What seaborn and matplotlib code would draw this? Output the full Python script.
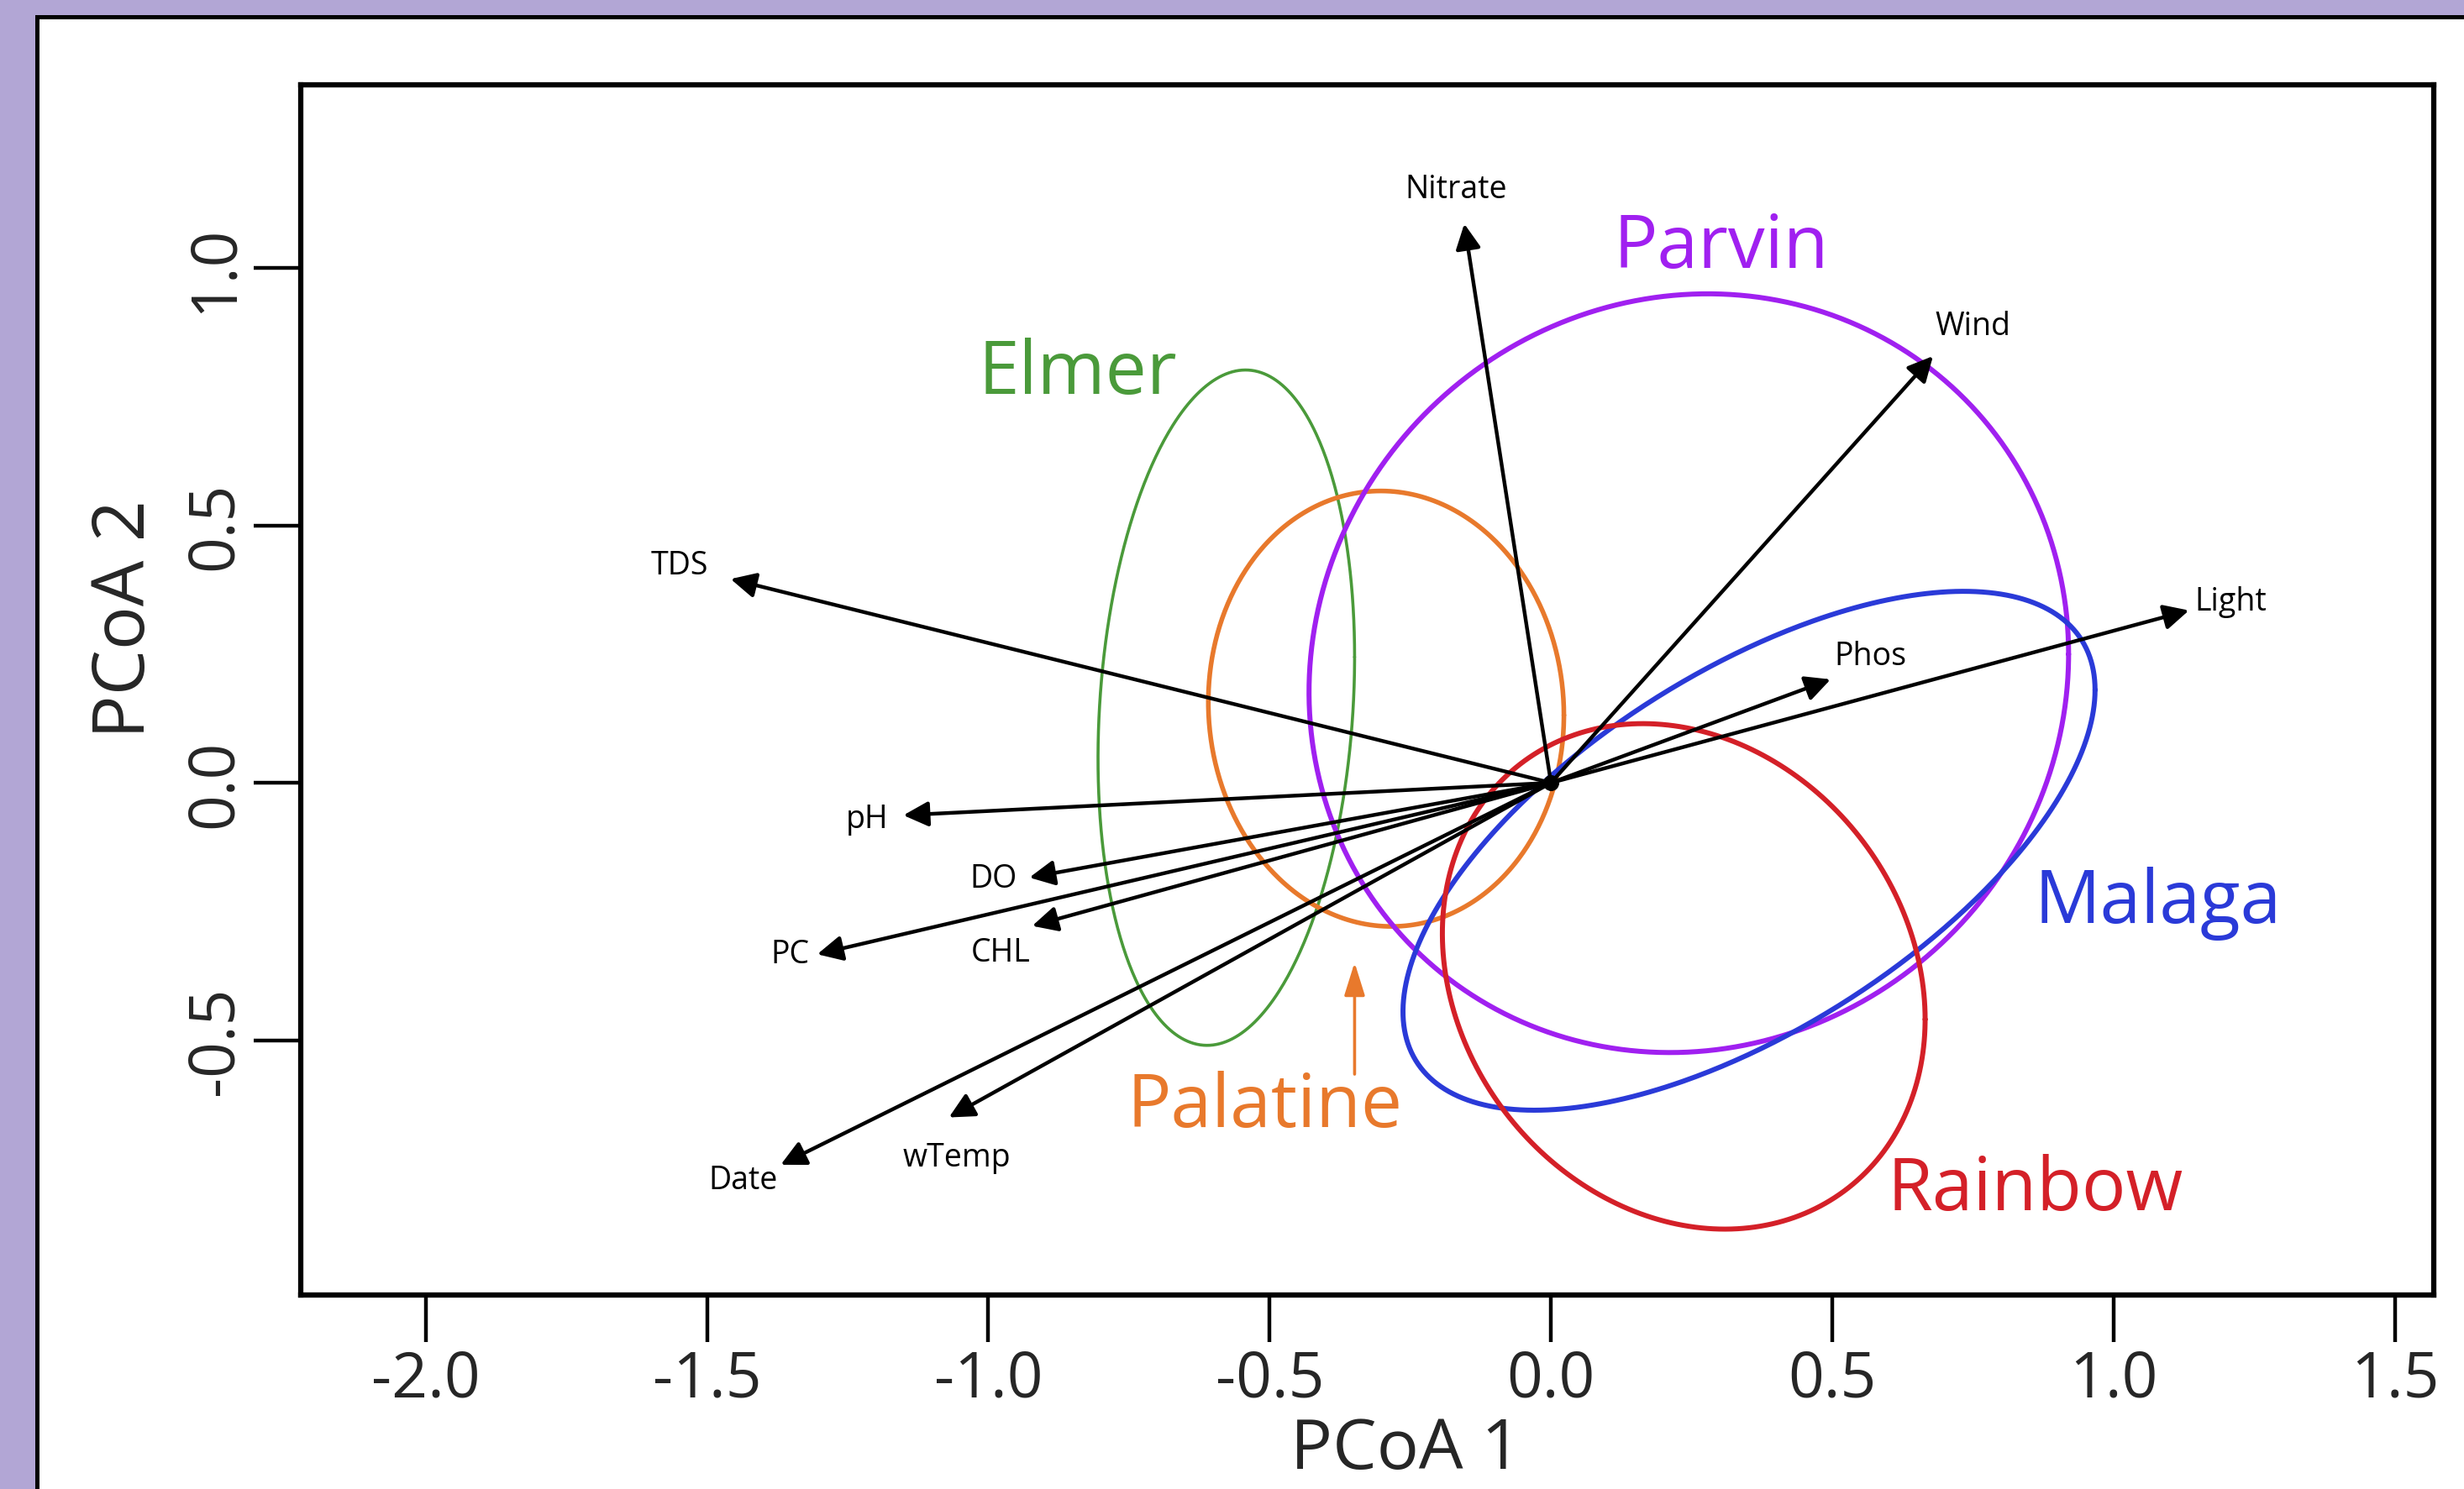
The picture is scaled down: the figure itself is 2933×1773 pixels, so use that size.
import numpy as np
import pandas as pd
import matplotlib
matplotlib.use('Agg')
import matplotlib.pyplot as plt
from matplotlib.patches import Rectangle
import seaborn as sns

# Environmental vectors (arrow tips in PCoA space)
variables = ['Nitrate', 'Wind', 'Light', 'Phos', 'TDS', 'pH', 'DO', 'CHL', 'PC', 'Date', 'wTemp']
vec_x = [-0.154, 0.679, 1.134, 0.497, -1.458, -1.151, -0.927, -0.922, -1.304, -1.369, -1.070]
vec_y = [1.086, 0.829, 0.335, 0.201, 0.396, -0.063, -0.184, -0.278, -0.333, -0.742, -0.650]
origin = (0.0, 0.0)

# Lake ellipses: centre, half extents and correlation
lakes = ['Elmer', 'Palatine', 'Parvin', 'Malaga', 'Rainbow']
ell_cx = [-0.577, -0.293, 0.245, 0.352, 0.236]
ell_cy = [0.146, 0.144, 0.213, -0.132, -0.376]
ell_hx = [0.228, 0.316, 0.675, 0.615, 0.429]
ell_hy = [0.656, 0.423, 0.737, 0.504, 0.491]
ell_rho = [0.15, -0.03, 0.05, 0.62, -0.17]

# Lake label positions (data units)
lake_lab_x = [-0.841, -0.508, 0.302, 1.078, 0.860]
lake_lab_y = [0.795, -0.629, 1.040, -0.233, -0.791]

# Pointer to the Palatine ellipse
palatine_arrow_x = [-0.349, -0.349]
palatine_arrow_y = [-0.566, -0.349]

x_ticks = [-2.0, -1.5, -1.0, -0.5, 0.0, 0.5, 1.0, 1.5]
y_ticks = [-0.5, 0.0, 0.5, 1.0]

colors = {'Elmer': '#4a9a3a', 'Palatine': '#e8792c', 'Parvin': '#a020f0',
          'Malaga': '#2a3ad8', 'Rainbow': '#d42028'}
line_w = {'Elmer': 2.6, 'Palatine': 4.0, 'Parvin': 4.3, 'Malaga': 4.3, 'Rainbow': 4.3}

# label offsets (points) from arrow tips
lab_off = {'Nitrate': (-7, 30), 'Wind': (34, 26), 'Light': (36, 8), 'Phos': (34, 20),
           'TDS': (-44, 12), 'pH': (-31, -3), 'DO': (-31, -1), 'CHL': (-27, -23),
           'PC': (-23, 0), 'Date': (-32, -13), 'wTemp': (7, -34)}

sns.set_style('ticks')
plt.rcParams['font.family'] = ['Open Sans', 'DejaVu Sans']

W, H = 2933, 1774
fig = plt.figure(figsize=(W / 100, H / 100), dpi=100, facecolor='#b2a6d5')
fig.patches.append(Rectangle((44 / W, -0.05), 1.2, 1 - 21 / H + 0.05, transform=fig.transFigure,
                             facecolor='white', edgecolor='black', lw=3.6, zorder=-1))

ax = fig.add_axes([358 / W, 1 - 1543 / H, (2897 - 358) / W, (1543 - 102) / H])
ax.set_facecolor('white')

# ellipses
for i, lake in enumerate(lakes):
    t = np.linspace(0, 2 * np.pi, 500)
    d = np.arcsin(ell_rho[i])
    df = pd.DataFrame({'x': ell_cx[i] + ell_hx[i] * np.cos(t),
                       'y': ell_cy[i] + ell_hy[i] * np.sin(t + d)})
    sns.lineplot(data=df, x='x', y='y', sort=False, estimator=None, ax=ax,
                 color=colors[lake], lw=line_w[lake])
    ax.text(lake_lab_x[i], lake_lab_y[i], lake, color=colors[lake], fontsize=63,
            ha='center', va='center')

# vectors
for v, x, y in zip(variables, vec_x, vec_y):
    ax.annotate('', xy=(x, y), xytext=origin,
                arrowprops=dict(arrowstyle='-|>,head_length=0.6,head_width=0.3', color='black',
                                lw=3.2, mutation_scale=30, shrinkA=0, shrinkB=0))
    ax.annotate(v, xy=(x, y), xytext=lab_off[v], textcoords='offset points',
                fontsize=27, ha='center', va='center', color='black')

ax.annotate('', xy=(palatine_arrow_x[1], palatine_arrow_y[1]),
            xytext=(palatine_arrow_x[0], palatine_arrow_y[0]),
            arrowprops=dict(arrowstyle='-|>,head_length=0.8,head_width=0.25', color=colors['Palatine'],
                            lw=2.6, mutation_scale=30, shrinkA=0, shrinkB=0))

sns.scatterplot(x=[origin[0]], y=[origin[1]], color='black', edgecolor='black', s=160, ax=ax, zorder=5)

ax.set_xlim(-2.222, 1.569)
ax.set_ylim(-0.995, 1.356)
ax.set_xticks(x_ticks)
ax.set_xticklabels([f'{v:.1f}' for v in x_ticks], fontsize=54)
ax.set_yticks(y_ticks)
ax.set_yticklabels([f'{v:.1f}' for v in y_ticks], fontsize=54, rotation=90, va='center')
ax.tick_params(axis='both', length=40, width=3.2, color='black', pad=6)
for s in ax.spines.values():
    s.set_linewidth(4.5)
    s.set_color('black')

ax.set_xlabel('PCoA 1', fontsize=60)
ax.set_ylabel('PCoA 2', fontsize=62)
ax.xaxis.set_label_coords(0.518, -0.128)
ax.xaxis.label.set_va('center')
ax.yaxis.set_label_coords(-0.082, 0.559)
ax.yaxis.label.set_va('center')

plt.savefig('out.png', dpi=100, facecolor=fig.get_facecolor())
plt.close()
